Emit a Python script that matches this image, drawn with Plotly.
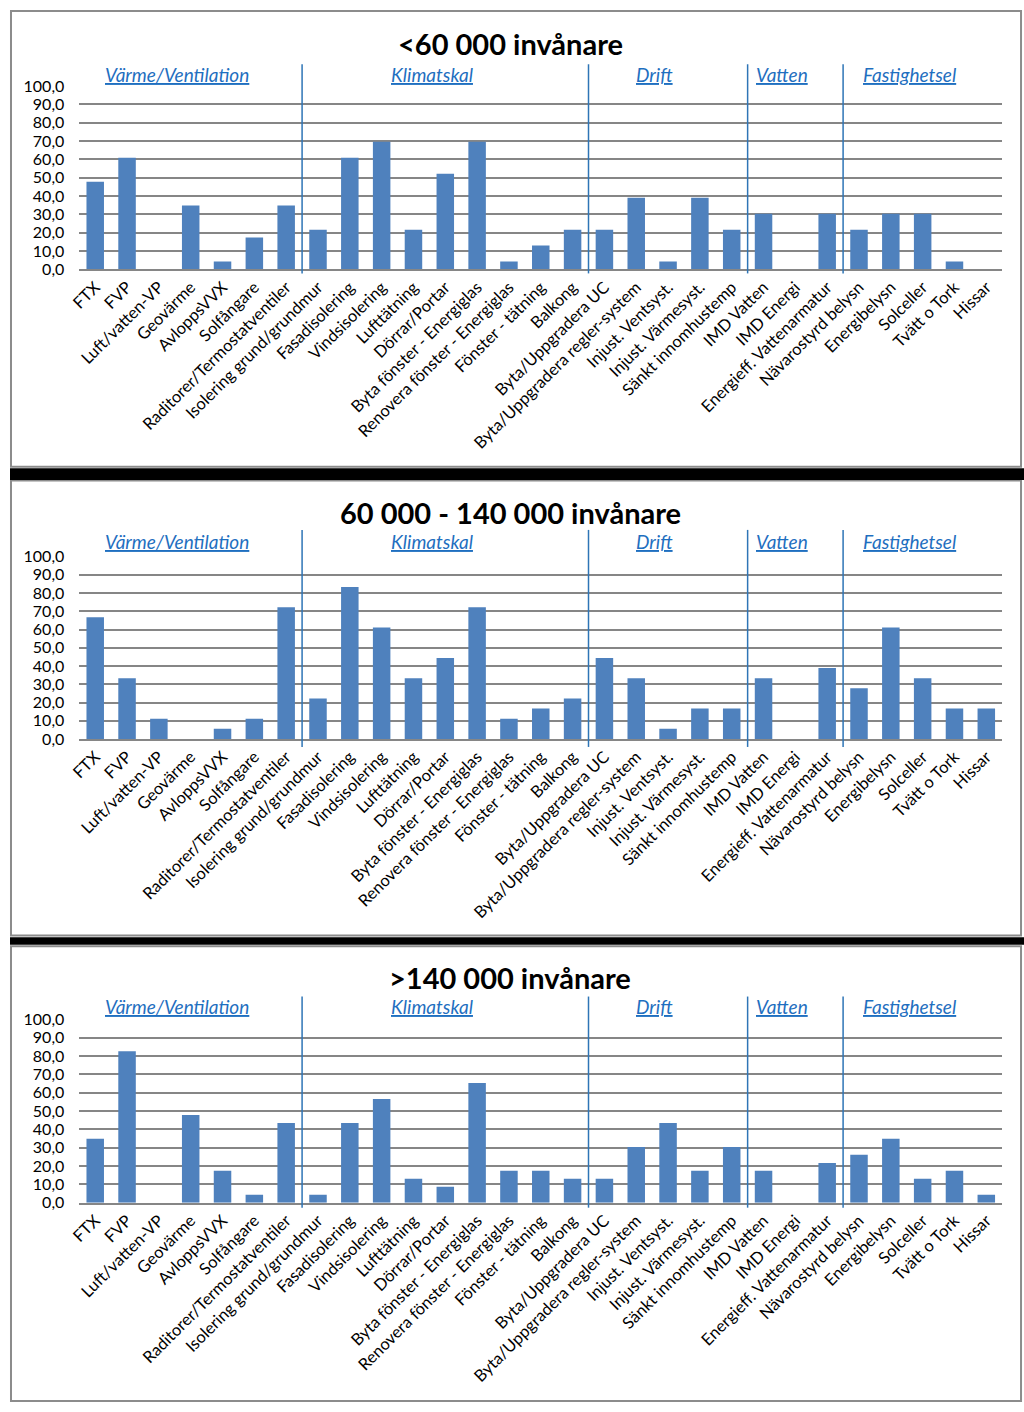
import plotly.graph_objects as go

# ---------------- data ----------------
categories = [
    "FTX", "FVP", "Luft/vatten-VP", "Geovärme", "AvloppsVVX", "Solfångare",
    "Raditorer/Termostatventiler", "Isolering grund/grundmur", "Fasadisolering",
    "Vindsisolering", "Lufttätning", "Dörrar/Portar", "Byta fönster - Energiglas",
    "Renovera fönster - Energiglas", "Fönster - tätning", "Balkong",
    "Byta/Uppgradera UC", "Byta/Uppgradera regler-system", "Injust. Ventsyst.",
    "Injust. Värmesyst.", "Sänkt innomhustemp", "IMD Vatten", "IMD Energi",
    "Energieff. Vattenarmatur", "Nävarostyrd belysn", "Energibelysn", "Solceller",
    "Tvätt o Tork", "Hissar",
]

values_small = [47.8, 60.9, 0.0, 34.8, 4.3, 17.4, 34.8, 21.7, 60.9, 69.6,
                21.7, 52.2, 69.6, 4.3, 13.0, 21.7, 21.7, 39.1, 4.3, 39.1,
                21.7, 30.4, 0.0, 30.4, 21.7, 30.4, 30.4, 4.3, 0.0]
values_medium = [66.7, 33.3, 11.1, 0.0, 5.6, 11.1, 72.2, 22.2, 83.3, 61.1,
                 33.3, 44.4, 72.2, 11.1, 16.7, 22.2, 44.4, 33.3, 5.6, 16.7,
                 16.7, 33.3, 0.0, 38.9, 27.8, 61.1, 33.3, 16.7, 16.7]
values_large = [34.8, 82.6, 0.0, 47.8, 17.4, 4.3, 43.5, 4.3, 43.5, 56.5,
                13.0, 8.7, 65.2, 17.4, 17.4, 13.0, 13.0, 30.4, 43.5, 17.4,
                30.4, 17.4, 0.0, 21.7, 26.1, 34.8, 13.0, 17.4, 4.3]

titles = ["<60 000 invånare", "60 000 - 140 000 invånare", ">140 000 invånare"]
sections = ["Värme/Ventilation", "Klimatskal", "Drift", "Vatten", "Fastighetsel"]
section_start = [0, 7, 16, 21, 24]   # index of first category in each section

series = [values_small, values_medium, values_large]

# ---------------- layout constants (pixels) ----------------
W, H = 1024, 1412
PLOT_X0, PLOT_X1 = 70, 1002
TITLE_X = 505
panels = [
    dict(top=1, bottom=463, ptop=77, pbot=263, title_y=34, sec_y=65, dtop=55, dbot=267),
    dict(top=477, bottom=938, ptop=554, pbot=739, title_y=509, sec_y=539, dtop=527, dbot=747),
    dict(top=949, bottom=1410, ptop=1023, pbot=1209, title_y=981, sec_y=1010, dtop=1000, dbot=1214),
]
black_bands = [(464.5, 476.5), (940, 947.5)]

BAR = "#4F81BD"
GRID = "#868686"
BLUE = "#1F6FC0"
DIV = "#2E75B6"
FONT = "Lato"


def yp(p):
    return 1 - p / H


def xp(p):
    return p / W


fig = go.Figure()
shapes = []
annotations = []
n = len(categories)
ends = section_start[1:] + [n]

for i, (vals, pnl) in enumerate(zip(series, panels)):
    k = "" if i == 0 else str(i + 1)
    fig.add_trace(go.Bar(
        x=categories, y=vals, xaxis="x" + k, yaxis="y" + k,
        marker=dict(color=BAR, line=dict(width=0)), width=0.55,
        hoverinfo="skip",
    ))
    fig.layout["xaxis" + k] = dict(
        domain=[xp(PLOT_X0), xp(PLOT_X1)], anchor="y" + k,
        type="category", range=[-0.5, n - 0.5],
        tickangle=-45, tickfont=dict(family=FONT, size=16.5, color="black"),
        showgrid=False, showline=True, linecolor=GRID, linewidth=1.5,
        ticks="", fixedrange=True,
    )
    fig.layout["yaxis" + k] = dict(
        domain=[yp(pnl["pbot"]), yp(pnl["ptop"])], anchor="x" + k,
        range=[0, 100], tick0=0, dtick=10, tickformat=".1f",
        showgrid=True, gridcolor=GRID, gridwidth=1.5, zeroline=False,
        tickfont=dict(family=FONT, size=16, color="black"),
        ticklabelstandoff=14, ticks="", fixedrange=True,
    )
    # panel border
    shapes.append(dict(type="rect", xref="paper", yref="paper",
                       x0=xp(1), x1=xp(1021), y0=yp(pnl["bottom"]), y1=yp(pnl["top"]),
                       line=dict(color="#8C8C8C", width=2), fillcolor="rgba(0,0,0,0)",
                       layer="below"))
    # section dividers
    for s in section_start[1:]:
        shapes.append(dict(type="line", xref="x" + k, yref="paper",
                           x0=s - 0.5, x1=s - 0.5, y0=yp(pnl["dbot"]), y1=yp(pnl["dtop"]),
                           line=dict(color=DIV, width=1.5)))
    # section labels
    for name, s0, s1 in zip(sections, section_start, ends):
        annotations.append(dict(
            xref="x" + k, yref="paper", x=(s0 + s1 - 1) / 2 - 0.42, y=yp(pnl["sec_y"]),
            text=name, showarrow=False, xanchor="center", yanchor="middle",
            font=dict(family=FONT, size=19, color=BLUE, style="italic",
                      lineposition="under"),
        ))
    # title
    annotations.append(dict(
        xref="paper", yref="paper", x=xp(TITLE_X), y=yp(pnl["title_y"]),
        text="<b>" + titles[i] + "</b>", showarrow=False,
        xanchor="center", yanchor="middle",
        font=dict(family=FONT, size=29, color="black"),
    ))

for (a, b) in black_bands:
    shapes.append(dict(type="rect", xref="paper", yref="paper",
                       x0=0, x1=1, y0=yp(b), y1=yp(a),
                       line=dict(width=0), fillcolor="black"))

fig.update_layout(
    width=W, height=H, autosize=False,
    margin=dict(l=0, r=0, t=0, b=0, pad=0),
    paper_bgcolor="white", plot_bgcolor="white",
    separators=", ", showlegend=False,
    font=dict(family=FONT, color="black"),
    shapes=shapes, annotations=annotations,
    bargap=0.45,
)

fig.write_html(
    "out.html",
    config={"displayModeBar": False},
    post_script=(
        "var b=document.body.style;b.margin='0';b.padding='0';b.overflow='hidden';"
    ),
)
